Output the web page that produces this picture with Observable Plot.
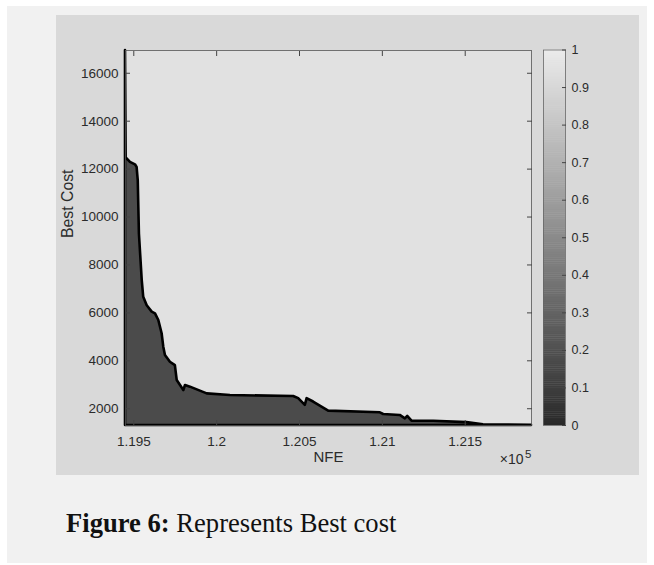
<!DOCTYPE html>
<html>
<head>
<meta charset="utf-8">
<script src="https://cdn.jsdelivr.net/npm/d3@7"></script>
<script src="https://cdn.jsdelivr.net/npm/@observablehq/plot@0.6"></script>
<style>
  html, body { margin: 0; padding: 0; background: #ffffff; width: 654px; height: 565px; overflow: hidden; }
  #panel { position: absolute; left: 7px; top: 6px; width: 640px; height: 557px; background: #f1f1f1; }
  #figure { position: absolute; left: 56px; top: 15px; width: 583px; height: 460px; background: #d9d9d9; }
  #main, #cbar { position: absolute; top: 0; }
  #main { left: 0; }
  #cbar { left: 474px; }
  #caption { position: absolute; left: 66px; top: 508px; font-family: "Liberation Serif", "Times New Roman", serif; font-size: 26.6px; color: #111; white-space: nowrap; }
</style>
</head>
<body>
<div id="panel"></div>
<div id="figure"><div id="main"></div><div id="cbar"></div></div>
<div id="caption"><b>Figure 6:</b> Represents Best cost</div>
<script>
// ---- data ----
const nfe = [119450, 119454, 119480, 119510, 119520, 119527, 119534, 119551, 119560, 119581,
             119611, 119631, 119651, 119671, 119681, 119691, 119721, 119751, 119762, 119782,
             119802, 119812, 119842, 119943, 120083, 120465, 120495, 120535, 120546, 120585,
             120676, 120988, 121008, 121108, 121139, 121153, 121179, 121310, 121510, 121610, 121900];
const cost = [16950, 12470, 12280, 12180, 12070, 11510, 9290, 7350, 6650, 6300,
              6030, 5960, 5680, 5130, 4570, 4220, 3940, 3800, 3180, 2970,
              2760, 2970, 2900, 2620, 2550, 2510, 2420, 2140, 2420, 2280,
              1900, 1830, 1760, 1720, 1580, 1680, 1480, 1480, 1420, 1330, 1310];
const xTicks = [119500, 120000, 120500, 121000, 121500];
const xTickLabels = ["1.195", "1.2", "1.205", "1.21", "1.215"];
const yTicks = [2000, 4000, 6000, 8000, 10000, 12000, 14000, 16000];
const yTickLabels = ["2000", "4000", "6000", "8000", "10000", "12000", "14000", "16000"];
const cbTicks = [0, 0.1, 0.2, 0.3, 0.4, 0.5, 0.6, 0.7, 0.8, 0.9, 1];
const cbTickLabels = ["0", "0.1", "0.2", "0.3", "0.4", "0.5", "0.6", "0.7", "0.8", "0.9", "1"];
const xDomain = [119450, 121900];
const yDomain = [1300, 16950];

const rows = nfe.map((x, i) => ({nfe: x, cost: cost[i]}));
const fontStyle = "background: transparent; overflow: visible; font-family: 'Liberation Sans', Arial, sans-serif; font-size: 13.5px; color: #2b2b2b;";

const main = Plot.plot({
  width: 583, height: 460,
  marginLeft: 69, marginRight: 108, marginTop: 35, marginBottom: 50,
  style: fontStyle,
  x: {domain: xDomain, label: null},
  y: {domain: yDomain, label: null},
  marks: [
    Plot.frame({fill: "#e1e1e1", stroke: null}),
    Plot.areaY(rows, {x: "nfe", y1: yDomain[0], y2: "cost", fill: "#4b4b4b", stroke: "#000", strokeWidth: 2.6, strokeLinejoin: "round"}),
    Plot.frame({stroke: "#555", strokeWidth: 0.8}),
    Plot.axisX(xTicks, {anchor: "bottom", tickSize: -5, tickPadding: 16, stroke: "#444", tickFormat: d => xTickLabels[xTicks.indexOf(d)], label: null}),
    Plot.axisX(xTicks, {anchor: "top", tickSize: -5, stroke: "#444", tickFormat: () => "", label: null}),
    Plot.axisY(yTicks, {anchor: "left", tickSize: -5, tickPadding: 12, stroke: "#444", tickFormat: d => yTickLabels[yTicks.indexOf(d)], label: null}),
    Plot.axisY(yTicks, {anchor: "right", tickSize: -5, stroke: "#444", tickFormat: () => "", label: null}),
    Plot.text(["NFE"], {text: d => d, frameAnchor: "bottom", dy: 36, fontSize: 15, fill: "#2b2b2b"}),
    Plot.text(["Best Cost"], {text: d => d, frameAnchor: "left", rotate: -90, dx: -58, fontSize: 15.8, fill: "#2b2b2b"}),
    Plot.text(["×10"], {text: d => d, frameAnchor: "bottom-right", textAnchor: "end", dx: -8, dy: 38, fontSize: 14, fill: "#2b2b2b"}),
    Plot.text(["5"], {text: d => d, frameAnchor: "bottom-right", textAnchor: "end", dx: 0, dy: 32, fontSize: 11.5, fill: "#2b2b2b"})
  ]
});
document.getElementById("main").appendChild(main);

const step = 0.005;
const cells = d3.range(0, 1, step);
const cbar = Plot.plot({
  width: 90, height: 460,
  marginLeft: 13, marginRight: 55, marginTop: 34.5, marginBottom: 50,
  style: fontStyle,
  y: {domain: [0, 1], label: null},
  color: {type: "linear", domain: [0, 1], range: ["#2a2a2a", "#ebebeb"]},
  marks: [
    Plot.rect(cells, {y1: d => d, y2: d => Math.min(1, d + step * 1.2), fill: d => d + step / 2}),
    Plot.frame({stroke: "#666", strokeWidth: 0.8}),
    Plot.axisY(cbTicks, {anchor: "right", tickSize: -4, tickPadding: 10, stroke: "#444", fontSize: 12.5, tickFormat: d => cbTickLabels[cbTicks.indexOf(d)], label: null})
  ]
});
document.getElementById("cbar").appendChild(cbar);
</script>
</body>
</html>
